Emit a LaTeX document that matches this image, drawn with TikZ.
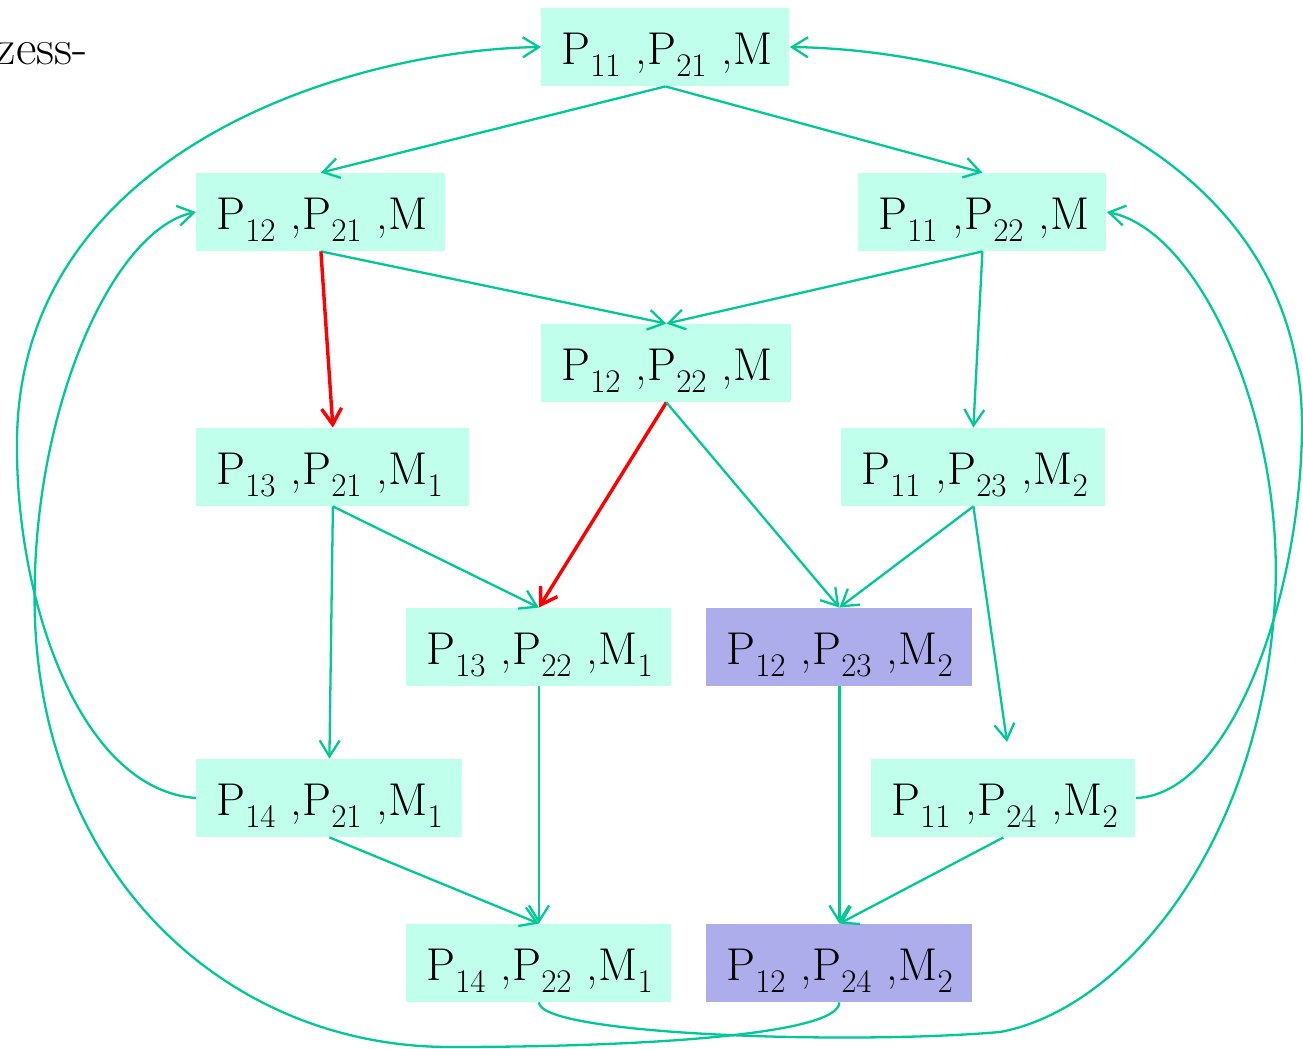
\documentclass[tikz,border=0pt]{standalone}
\usepackage{tikz}
\usetikzlibrary{arrows.meta}
\definecolor{rgmint}{HTML}{C0FFEC}
\definecolor{rglilac}{HTML}{ADADEB}
\definecolor{rggreen}{HTML}{00C896}
\definecolor{rgred}{HTML}{FF0000}
\newcommand{\idx}[1]{\raisebox{-6pt}{\fontsize{16.5}{16.5}\selectfont #1}}

\begin{document}
\begin{tikzpicture}[
  x=0.5pt,y=-0.5pt,
  state/.style={fill=rgmint,anchor=west,align=left,inner xsep=10pt,inner ysep=0pt,minimum height=39pt,text height=22pt,text depth=5pt,font=\fontsize{23}{28}\selectfont},
  goal/.style={state,fill=rglilac},
  arr/.style={-{Straight Barb[length=8pt,width=10pt]},line width=1.15pt,draw=rggreen},
  hot/.style={arr,draw=rgred,line width=1.7pt}
]
\useasboundingbox (0,0) rectangle (1303,1049);
\node[anchor=base east,inner xsep=0pt,font=\fontsize{25}{30}\selectfont] (zess) at (88,64) {zess-};

\node[state,text width=104pt] (p1121) at (541,47) {\mbox{P\idx{11} ,P\idx{21} ,M}};
\node[state,text width=104.5pt] (p1221) at (196,212) {\mbox{P\idx{12} ,P\idx{21} ,M}};
\node[state,text width=104pt] (p1122) at (858,212) {\mbox{P\idx{11} ,P\idx{22} ,M}};
\node[state,text width=105pt] (p1222) at (541,363) {\mbox{P\idx{12} ,P\idx{22} ,M}};
\node[state,text width=116.5pt] (p1321) at (196,467) {\mbox{P\idx{13} ,P\idx{21} ,M\idx{1}}};
\node[state,text width=112pt] (p1123) at (841,467) {\mbox{P\idx{11} ,P\idx{23} ,M\idx{2}}};
\node[state,text width=112.5pt] (p1322) at (406,647) {\mbox{P\idx{13} ,P\idx{22} ,M\idx{1}}};
\node[goal,text width=113pt] (p1223) at (706,647) {\mbox{P\idx{12} ,P\idx{23} ,M\idx{2}}};
\node[state,text width=113pt] (p1421) at (196,798) {\mbox{P\idx{14} ,P\idx{21} ,M\idx{1}}};
\node[state,text width=112pt] (p1124) at (871,798) {\mbox{P\idx{11} ,P\idx{24} ,M\idx{2}}};
\node[state,text width=112.5pt] (p1422) at (406,963) {\mbox{P\idx{14} ,P\idx{22} ,M\idx{1}}};
\node[goal,text width=113pt] (p1224) at (706,963) {\mbox{P\idx{12} ,P\idx{24} ,M\idx{2}}};
\coordinate (near1124) at (1007,742);

\draw[arr] (p1121.south) -- (p1221.north);
\draw[arr] (p1121.south) -- (p1122.north);
\draw[arr] (p1221.south) -- (p1222.north);
\draw[arr] (p1122.south) -- (p1222.north);
\draw[hot] (p1221.south) -- (p1321.north);
\draw[arr] (p1122.south) -- (p1123.north);
\draw[hot] (p1222.south) -- (p1322.north);
\draw[arr] (p1222.south) -- (p1223.north);
\draw[arr] (p1321.south) -- (p1322.north);
\draw[arr] (p1321.south) -- (p1421.north);
\draw[arr] (p1123.south) -- (p1223.north);
\draw[arr] (p1123.south) -- (near1124);
\draw[arr] (p1322.south) -- (p1422.north);
\draw[arr] (p1421.south) -- (p1422.north);
\draw[arr] (p1223.south) -- (p1224.north);
\draw[arr] (p1124.south) -- (p1224.north);

% back edges round the outside
\draw[arr] (p1421.west) .. controls (80,790) and (15,600) .. (17,440) .. controls (20,150) and (350,50) .. (p1121.west);
\draw[arr] (p1224.south) .. controls (839,1035) and (640,1047) .. (450,1047) .. controls (230,1047) and (45,880) .. (35,620) .. controls (28,420) and (110,230) .. (p1221.west);
\draw[arr] (p1124.east) .. controls (1230,795) and (1300,600) .. (1302,430) .. controls (1305,150) and (1000,50) .. (p1121.east);
\draw[arr] (p1422.south) .. controls (540,1035) and (850,1045) .. (1000,1032) .. controls (1120,1010) and (1260,850) .. (1275,600) .. controls (1285,420) and (1200,230) .. (p1122.east);
\end{tikzpicture}
\end{document}
